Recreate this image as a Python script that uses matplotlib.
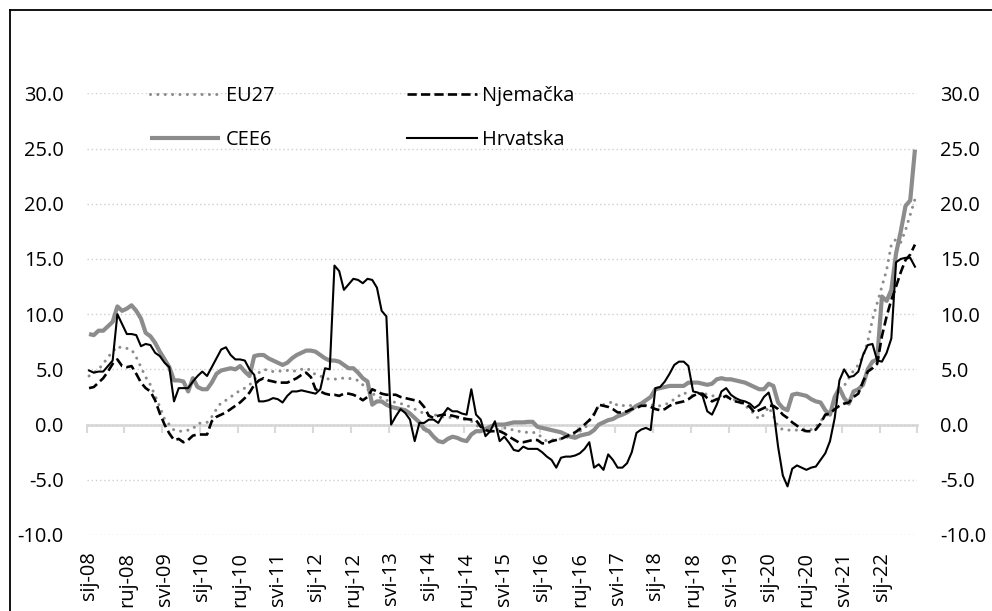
import numpy as np
import matplotlib
matplotlib.use("Agg")
import matplotlib.pyplot as plt
from matplotlib.lines import Line2D
from matplotlib.ticker import FormatStrFormatter

plt.rcParams['font.family'] = ['Open Sans', 'DejaVu Sans']
plt.rcParams['axes.unicode_minus'] = False

# ---- data (monthly, sij-08 .. kol-22) ----
eu27 = [4.4, 4.7, 5.0, 5.5, 6.1, 6.6, 7.1, 6.9, 6.9, 6.8, 6.1, 5.2, 4.3, 3.6, 2.6, 1.6, 0.5, 0.0, -0.5, -0.6,
        -0.6, -0.5, -0.4, 0.1, 0.15, 0.2, 0.7, 1.4, 2.0, 2.2, 2.5, 2.8, 3.1, 3.3, 3.6, 4.0, 4.7, 5.0, 4.9, 4.8,
        4.8, 4.9, 4.9, 4.8, 4.9, 5.0, 5.1, 4.9, 4.5, 4.4, 4.2, 4.1, 4.1, 4.2, 4.2, 4.2, 4.1, 4.0, 3.6, 3.2,
        2.8, 2.6, 2.4, 2.2, 2.1, 2.0, 1.9, 1.8, 1.6, 1.4, 1.2, 1.0, 0.8, 0.9, 0.8, 0.7, 0.7, 0.6, 0.6, 0.5,
        0.4, 0.3, 0.0, -0.4, -0.6, -0.6, -0.5, -0.4, -0.3, -0.4, -0.5, -0.6, -0.7, -0.7, -0.7, -0.8, -1.2, -1.5, -1.4, -1.35,
        -1.3, -1.2, -1.0, -0.9, -0.6, -0.4, 0.3, 1.0, 1.7, 1.8, 1.9, 2.1, 1.7, 1.7, 1.8, 1.7, 1.7, 1.8, 1.8, 1.8,
        1.7, 1.7, 1.8, 2.0, 2.3, 2.6, 2.9, 2.7, 2.6, 2.8, 2.9, 2.7, 2.6, 2.6, 2.6, 2.5, 2.4, 2.2, 2.0, 1.7,
        1.4, 0.9, 0.5, 0.9, 1.6, 0.8, -0.2, -0.45, -0.5, -0.5, -0.5, -0.45, -0.45, -0.45, -0.2, 0.3, 0.8, 1.0, 2.2, 3.2,
        3.5, 4.2, 4.9, 5.4, 6.2, 7.5, 9.5, 11.0, 12.5, 14.0, 16.3, 16.8, 16.5, 17.6, 19.0, 20.4]

njemacka = [3.3, 3.4, 3.8, 4.2, 4.8, 5.5, 5.9, 5.3, 5.2, 5.3, 4.6, 3.8, 3.3, 3.0, 2.2, 1.0, 0.0, -0.8, -1.4, -1.3,
            -1.6, -1.4, -1.0, -0.9, -0.9, -0.9, 0.3, 0.7, 0.9, 1.1, 1.4, 1.7, 2.0, 2.4, 2.9, 3.6, 4.0, 4.2, 4.0, 3.9,
            3.8, 3.8, 3.8, 4.0, 4.2, 4.5, 4.7, 4.3, 3.2, 3.0, 2.8, 2.7, 2.7, 2.6, 2.8, 2.8, 2.7, 2.5, 2.2, 2.5,
            3.2, 3.0, 2.8, 2.7, 2.7, 2.7, 2.5, 2.4, 2.3, 2.2, 2.1, 1.6, 0.8, 0.6, 0.8, 0.9, 0.9, 0.8, 0.7, 0.6,
            0.5, 0.45, 0.4, -0.2, -0.5, -0.6, -0.6, -0.6, -0.8, -1.1, -1.35, -1.6, -1.6, -1.5, -1.4, -1.4, -1.7, -1.7, -1.5, -1.4,
            -1.3, -1.1, -0.9, -0.7, -0.4, 0.0, 0.4, 0.9, 1.8, 1.7, 1.6, 1.4, 1.1, 1.1, 1.2, 1.4, 1.5, 1.7, 1.7, 1.6,
            1.4, 1.3, 1.4, 1.7, 1.9, 2.0, 2.1, 2.3, 2.6, 2.8, 2.8, 2.4, 2.1, 2.3, 2.4, 2.6, 2.3, 2.1, 2.0, 1.9,
            1.6, 1.1, 1.3, 1.5, 1.7, 1.7, 1.4, 0.9, 0.6, 0.2, -0.1, -0.45, -0.6, -0.6, -0.45, 0.1, 0.9, 1.0, 1.4, 1.7,
            1.9, 2.0, 2.5, 2.8, 3.9, 4.8, 5.1, 5.5, 8.0, 9.8, 11.3, 12.5, 13.8, 14.9, 15.4, 16.3]

cee6 = [8.2, 8.1, 8.5, 8.5, 8.9, 9.3, 10.7, 10.3, 10.5, 10.8, 10.3, 9.6, 8.3, 8.0, 7.4, 6.6, 5.9, 5.2, 4.0, 4.0,
        3.9, 3.0, 4.2, 3.4, 3.2, 3.2, 3.8, 4.6, 4.9, 5.0, 5.1, 5.0, 5.3, 4.8, 4.4, 6.2, 6.3, 6.3, 6.0, 5.8,
        5.6, 5.4, 5.6, 6.0, 6.3, 6.5, 6.7, 6.7, 6.6, 6.3, 6.0, 5.8, 5.8, 5.7, 5.4, 5.1, 5.1, 4.7, 4.2, 3.9,
        1.8, 2.1, 2.1, 1.8, 1.6, 1.5, 1.4, 1.3, 1.0, 0.6, 0.2, -0.4, -0.6, -1.1, -1.5, -1.6, -1.3, -1.1, -1.2, -1.4,
        -1.5, -0.9, -0.6, -0.6, -0.4, -0.2, 0.0, 0.0, 0.0, 0.1, 0.2, 0.2, 0.2, 0.25, 0.25, -0.2, -0.3, -0.4, -0.5, -0.6,
        -0.7, -0.9, -1.1, -1.2, -1.0, -0.9, -0.8, -0.5, 0.0, 0.2, 0.4, 0.5, 0.75, 0.9, 1.1, 1.4, 1.7, 1.9, 2.2, 2.5,
        3.2, 3.3, 3.4, 3.5, 3.5, 3.5, 3.5, 3.8, 3.8, 3.8, 3.7, 3.6, 3.7, 4.1, 4.2, 4.1, 4.1, 4.0, 3.9, 3.8,
        3.6, 3.4, 3.2, 3.2, 3.7, 3.5, 2.0, 1.5, 1.3, 2.7, 2.8, 2.7, 2.6, 2.3, 2.1, 2.0, 1.3, 0.9, 2.5, 3.3,
        2.4, 1.9, 3.0, 3.2, 3.6, 5.0, 5.7, 5.9, 11.6, 11.2, 12.2, 15.5, 17.5, 19.8, 20.3, 24.9]

hrvatska = [4.9, 4.7, 4.8, 4.8, 5.3, 5.8, 10.0, 9.1, 8.2, 8.2, 8.1, 7.1, 7.3, 7.2, 6.5, 6.2, 5.6, 5.2, 2.1, 3.3,
            3.3, 3.3, 3.9, 4.4, 4.8, 4.4, 5.2, 6.0, 6.8, 7.0, 6.3, 5.9, 5.9, 5.8, 5.0, 4.5, 2.1, 2.1, 2.2, 2.4,
            2.3, 2.0, 2.6, 3.0, 3.0, 3.1, 3.0, 2.9, 2.8, 3.2, 5.1, 5.0, 14.4, 13.9, 12.2, 12.7, 13.2, 13.1, 12.8, 13.2,
            13.1, 12.4, 10.3, 9.8, 0.0, 0.75, 1.4, 1.05, 0.45, -1.5, 0.15, 0.15, 0.45, 0.45, 0.15, 0.9, 1.5, 1.2, 1.2, 1.0,
            0.9, 3.2, 0.9, 0.45, -1.05, -0.6, 0.3, -1.5, -1.1, -1.65, -2.3, -2.4, -2.0, -2.2, -2.2, -2.2, -2.5, -2.9, -3.2, -3.9,
            -3.0, -2.9, -2.9, -2.8, -2.6, -2.2, -1.6, -3.9, -3.6, -4.1, -2.7, -3.2, -3.9, -3.9, -3.5, -2.5, -0.75, -0.45, -0.3, -0.5,
            3.3, 3.4, 3.9, 4.6, 5.4, 5.7, 5.7, 5.3, 3.0, 2.9, 2.6, 1.2, 0.9, 1.8, 3.0, 3.3, 2.7, 2.4, 2.2, 2.1,
            1.9, 1.5, 1.8, 2.5, 2.9, 1.4, -2.0, -4.6, -5.6, -4.0, -3.7, -3.9, -4.1, -3.9, -3.8, -3.2, -2.6, -1.5, 0.6, 4.0,
            5.0, 4.3, 4.4, 4.8, 6.3, 7.2, 7.3, 5.8, 5.7, 6.5, 7.8, 14.7, 15.0, 15.1, 15.1, 14.3]

tick_labels = ['sij-08', 'ruj-08', 'svi-09', 'sij-10', 'ruj-10', 'svi-11', 'sij-12', 'ruj-12',
               'svi-13', 'sij-14', 'ruj-14', 'svi-15', 'sij-16', 'ruj-16', 'svi-17', 'sij-18',
               'ruj-18', 'svi-19', 'sij-20', 'ruj-20', 'svi-21', 'sij-22']
series_names = ['EU27', 'Njemačka', 'CEE6', 'Hrvatska']
label_step = 8

# ---- figure ----
W, H = 992, 611
fig = plt.figure(figsize=(W / 100, H / 100), dpi=100)
x0, x1, ytop, ybot = 86.7, 917.3, 93.3, 535.0
ax = fig.add_axes([x0 / W, 1 - ybot / H, (x1 - x0) / W, (ybot - ytop) / H])

n = len(eu27)
x = np.arange(n)
grey = '#8c8c8c'
FS = 14.4

l_cee, = ax.plot(x, cee6, color=grey, lw=3.0, solid_capstyle='butt', zorder=3)
l_eu, = ax.plot(x, eu27, color=grey, lw=2.2, linestyle=(0, (0.01, 2.4)),
                dash_capstyle='round', zorder=4)
l_nj, = ax.plot(x, njemacka, color='black', lw=1.9, linestyle=(0, (3.5, 1.6)), zorder=5)
l_hr, = ax.plot(x, hrvatska, color='black', lw=1.5, zorder=6)

ax.set_xlim(-0.5, n - 0.5)
ax.set_ylim(-10, 30)
yt = np.arange(-10, 31, 5)
ax.set_yticks(yt)
ax.yaxis.set_major_formatter(FormatStrFormatter('%.1f'))
ax.grid(axis='y', color='#cfcfcf', lw=1.0, linestyle=(0, (1, 2)))
ax.set_axisbelow(True)
for s in ax.spines.values():
    s.set_visible(False)
ax.tick_params(axis='y', length=0, pad=16.5, labelsize=FS)

ax.set_xticks(np.arange(0, n, label_step))
ax.set_xticklabels(tick_labels, rotation=90, fontsize=FS)
ax.tick_params(axis='x', length=0, pad=12)

# zero axis with tick marks between category groups
sec = ax.secondary_xaxis(0.25)
sec.set_xticks(np.arange(-0.5, n, label_step))
sec.tick_params(axis='x', length=6, width=1.5, color='#d9d9d9', labelbottom=False)
sec.spines['bottom'].set_color('#d9d9d9')
sec.spines['bottom'].set_linewidth(2)

ax2 = ax.twinx()
ax2.set_ylim(-10, 30)
ax2.set_yticks(yt)
ax2.yaxis.set_major_formatter(FormatStrFormatter('%.1f'))
for s in ax2.spines.values():
    s.set_visible(False)
ax2.tick_params(axis='y', length=0, pad=16.5, labelsize=FS)

ax.legend(handles=[l_eu, l_cee, l_nj, l_hr],
          labels=[series_names[0], series_names[2], series_names[1], series_names[3]],
          ncol=2, frameon=False, loc='upper left',
          bbox_to_anchor=(150 / W, 1 - 86 / H), bbox_transform=fig.transFigure,
          fontsize=FS, handlelength=3.5, handletextpad=0.3, columnspacing=6.6,
          labelspacing=1.2, borderpad=0, borderaxespad=0)

# chart outline
fig.add_artist(Line2D([10 / W, 10 / W], [0, 1 - 10 / H], transform=fig.transFigure,
                      color='black', lw=1.3))
fig.add_artist(Line2D([10 / W, 1], [1 - 10 / H, 1 - 10 / H], transform=fig.transFigure,
                      color='black', lw=1.3))

fig.savefig('out.png', dpi=100)
